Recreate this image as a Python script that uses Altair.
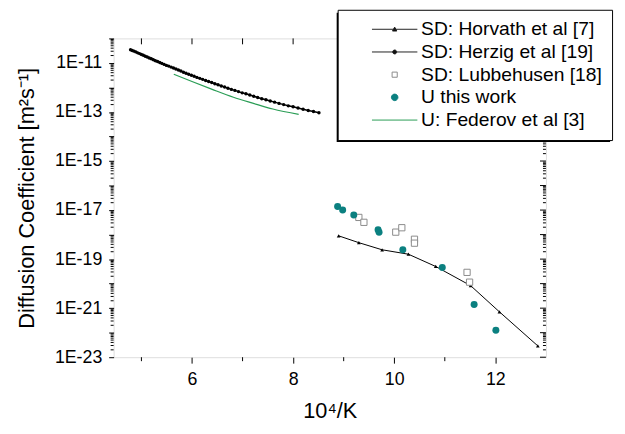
import altair as alt
import pandas as pd

# ---------------- data (x = 10^4/K, logD = log10 of diffusion coefficient) -------------
herzig_x = [4.785, 4.819, 4.854, 4.890, 4.926, 4.963, 5.000, 5.038, 5.076, 5.115, 5.155,
            5.195, 5.236, 5.277, 5.319, 5.362, 5.405, 5.450, 5.495, 5.540, 5.587, 5.634,
            5.682, 5.731, 5.780, 5.831, 5.882, 5.935, 5.988, 6.042, 6.098, 6.154, 6.211,
            6.270, 6.329, 6.390, 6.452, 6.515, 6.579, 6.645, 6.711, 6.780, 6.849, 6.920,
            6.993, 7.067, 7.143, 7.220, 7.299, 7.380, 7.463, 7.547, 7.634, 7.722, 7.813,
            7.905, 8.000, 8.097, 8.197, 8.299, 8.403, 8.511]
herzig_logd = [-10.46, -10.49, -10.52, -10.55, -10.59, -10.62, -10.66, -10.69, -10.73, -10.76,
               -10.80, -10.83, -10.87, -10.91, -10.94, -10.98, -11.02, -11.06, -11.10, -11.13,
               -11.17, -11.21, -11.25, -11.29, -11.33, -11.38, -11.42, -11.46, -11.50, -11.54,
               -11.59, -11.63, -11.67, -11.72, -11.76, -11.80, -11.85, -11.89, -11.94, -11.98,
               -12.03, -12.08, -12.12, -12.17, -12.22, -12.26, -12.31, -12.36, -12.41, -12.46,
               -12.50, -12.55, -12.60, -12.65, -12.70, -12.75, -12.79, -12.84, -12.89, -12.94,
               -12.98, -13.03]

federov_x = [5.64, 6.00, 6.40, 6.82, 7.20, 7.60, 8.11]
federov_logd = [-11.46, -11.76, -12.08, -12.40, -12.64, -12.88, -13.10]

horvath_x = [8.90, 9.30, 9.76, 10.28, 10.82, 11.51, 12.08, 12.84]
horvath_logd = [-18.05, -18.33, -18.62, -18.80, -19.30, -20.08, -21.15, -22.54]

lubbehusen_x = [9.30, 9.40, 10.03, 10.15, 10.40, 10.40, 11.44, 11.49]
lubbehusen_logd = [-17.30, -17.50, -17.90, -17.72, -18.19, -18.35, -19.54, -19.94]

thiswork_x = [8.88, 8.98, 9.20, 9.68, 9.70, 10.17, 10.95, 11.58, 12.01]
thiswork_logd = [-16.85, -17.00, -17.20, -17.80, -17.90, -18.62, -19.34, -20.85, -21.90]

legend_labels = ["SD: Horvath et al  [7]", "SD: Herzig et al [19]", "SD: Lubbehusen [18]",
                 "U this work", "U: Federov et al [3]"]

x_ticks = [6, 8, 10, 12]
x_minor = [5, 7, 9, 11]
x_top = [5, 6, 7, 8, 9, 10, 11, 12]
y_exponents = list(range(-23, -9))

# ---------------- styling ----------------
FONT = "Liberation Sans"
W, H = 438, 323
TEAL = "#0b8080"
GREEN = "#2a9d55"
GRAY = "#8a8a8a"


def df(xs, ls):
    return pd.DataFrame({"x": xs, "y": [10.0 ** v for v in ls]})


y_major = [10.0 ** e for e in y_exponents]
y_minor = [m * 10.0 ** e for e in y_exponents[:-1] for m in range(2, 10)]

xs = alt.Scale(domain=[4.45, 13], nice=False, zero=False)
ys = alt.Scale(type="log", domain=[1e-23, 1e-10], nice=False)

x_axis = alt.Axis(values=x_ticks, title="10⁴/K", format="d", tickSize=6, labelPadding=8,
                  titlePadding=12, grid=False, domain=False, tickColor="black",
                  labelColor="black", titleColor="black", labelFontSize=18, titleFontSize=22,
                  labelFont=FONT, titleFont=FONT, titleFontWeight="normal")
y_axis = alt.Axis(values=y_major, title="Diffusion Coefficient [m²s⁻¹]",
                  labelExpr="(round(log(datum.value)/LN10) % 2 != 0) ? '1E' + round(log(datum.value)/LN10) : ''",
                  tickSize=5, labelPadding=7, titlePadding=16, grid=False, domain=False,
                  tickColor="black", labelColor="black", titleColor="black", labelFontSize=18,
                  titleFontSize=22, labelFont=FONT, titleFont=FONT, titleFontWeight="normal")

X = alt.X("x:Q", scale=xs, axis=x_axis)
Y = alt.Y("y:Q", scale=ys, axis=y_axis)

layers = []

# shadow behind the legend box
shadow = alt.Chart(pd.DataFrame({"k": [0]})).mark_rect(color="black").encode(
    x=alt.value(226), x2=alt.value(503), y=alt.value(-26), y2=alt.value(105))
layers.append(shadow)

# Federov line
layers.append(alt.Chart(df(federov_x, federov_logd)).mark_line(
    color=GREEN, strokeWidth=1.2, interpolate="monotone").encode(x=X, y=Y))

# Herzig line + dots
hz = df(herzig_x, herzig_logd)
layers.append(alt.Chart(hz).mark_line(color="black", strokeWidth=1.5).encode(x=X, y=Y))
layers.append(alt.Chart(hz).mark_circle(color="black", size=12, opacity=1).encode(x=X, y=Y))

# Horvath line + triangles
hv = df(horvath_x, horvath_logd)
layers.append(alt.Chart(hv).mark_line(color="black", strokeWidth=1).encode(x=X, y=Y))
layers.append(alt.Chart(hv).mark_point(shape="triangle-up", filled=True, color="black",
                                       size=14, opacity=1).encode(x=X, y=Y))

# Lubbehusen open squares
layers.append(alt.Chart(df(lubbehusen_x, lubbehusen_logd)).mark_point(
    shape="square", filled=False, stroke=GRAY, fill="white", strokeWidth=1, size=40,
    opacity=1).encode(x=X, y=Y))

# this work
layers.append(alt.Chart(df(thiswork_x, thiswork_logd)).mark_circle(
    color=TEAL, size=50, opacity=1).encode(x=X, y=Y))

# extra tick marks (minor / mirrored)
tick_style = dict(color="black", strokeWidth=1)
layers.append(alt.Chart(pd.DataFrame({"x": x_minor})).mark_rule(**tick_style).encode(
    x=X, y=alt.value(H), y2=alt.value(H + 4)))
layers.append(alt.Chart(pd.DataFrame({"x": x_top})).mark_rule(**tick_style).encode(
    x=X, y=alt.value(0), y2=alt.value(6)))
layers.append(alt.Chart(pd.DataFrame({"y": y_minor})).mark_rule(**tick_style).encode(
    y=Y, x=alt.value(0), x2=alt.value(-3)))
layers.append(alt.Chart(pd.DataFrame({"y": y_major})).mark_rule(**tick_style).encode(
    y=Y, x=alt.value(W - 6), x2=alt.value(W)))
layers.append(alt.Chart(pd.DataFrame({"y": y_minor})).mark_rule(**tick_style).encode(
    y=Y, x=alt.value(W - 3), x2=alt.value(W)))

# legend (drawn from the scales only); custom symbol paths are scaled by sqrt(size)/2 = 5
shapes = [
    "M-1,0L8.2,0M3.16,0.36L3.6,-0.44L4.04,0.36Z",
    "M-1,0L8.2,0M4.0,0A0.4,0.4,0,1,1,3.2,0A0.4,0.4,0,1,1,4.0,0Z",
    "M3.08,-0.52L4.12,-0.52L4.12,0.52L3.08,0.52Z",
    "M4.26,0A0.66,0.66,0,1,1,2.94,0A0.66,0.66,0,1,1,4.26,0Z",
    "M-1,0L8.2,0",
]
fills = ["black", "black", "white", TEAL, "transparent"]
strokes = ["#222222", "#222222", GRAY, TEAL, GREEN]
leg = alt.Legend(title=None, orient="none", legendX=227, legendY=-29, fillColor="white",
                 strokeColor="black", padding=10, labelFont=FONT, labelFontSize=19.5,
                 labelColor="black", symbolSize=100, symbolStrokeWidth=1, symbolOffset=20,
                 labelOffset=35, rowPadding=2, labelLimit=400)
legend_layer = alt.Chart(pd.DataFrame({"series": legend_labels})).mark_point(
    filled=True, opacity=1).encode(
    shape=alt.Shape("series:N", scale=alt.Scale(domain=legend_labels, range=shapes), legend=leg),
    fill=alt.Fill("series:N", scale=alt.Scale(domain=legend_labels, range=fills), legend=leg),
    stroke=alt.Stroke("series:N", scale=alt.Scale(domain=legend_labels, range=strokes), legend=leg),
).transform_filter("false")
layers.append(legend_layer)

chart = alt.layer(*layers).properties(
    width=W, height=H,
    autosize=alt.AutoSizeParams(type="none"),
    padding={"left": 107, "top": 28, "right": 72, "bottom": 75},
).configure_view(stroke="black", strokeWidth=1).configure(background="white")

chart.save("out.html", embed_options={"renderer": "svg", "actions": False})
